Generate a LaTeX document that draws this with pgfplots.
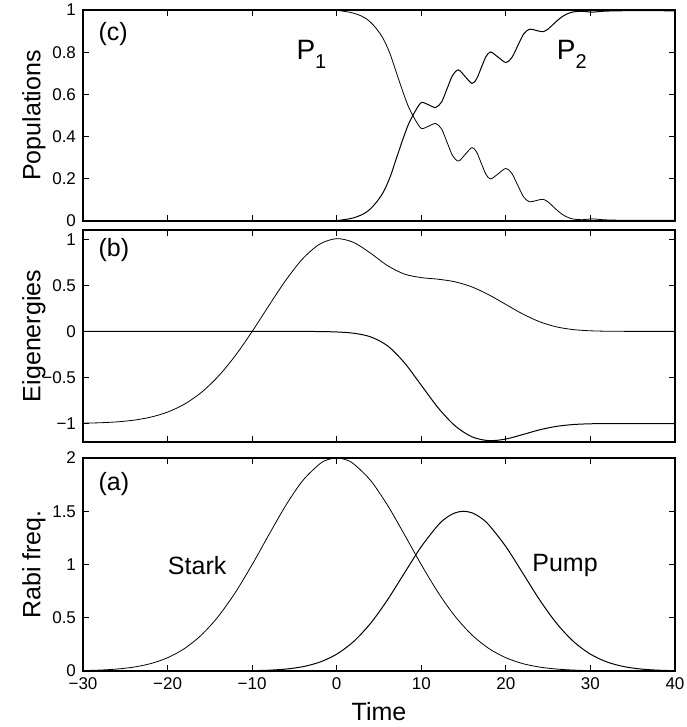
\documentclass[border=0pt]{standalone}
\usepackage{fontspec}
\setmainfont{Liberation Sans}
\usepackage{pgfplots}
\pgfplotsset{compat=1.18}
\begin{document}
\begin{tikzpicture}
\pgfplotsset{
  every axis/.append style={
    scale only axis, width=296pt,
    xmin=-30, xmax=40,
    xtick={-30,-20,-10,0,10,20,30,40},
    tick align=inside, tick pos=both,
    major tick length=2.8pt,
    axis line style={line width=0.6pt},
    every tick/.style={black, line width=0.4pt},
    tick label style={font=\fontsize{8.5}{9}\selectfont},
    label style={font=\fontsize{12.5}{13}\selectfont},
    ylabel style={at={(axis description cs:-0.083,0.5)}, anchor=center},
    /pgf/number format/assume math mode=true,
    cycle list={{black, line width=0.5pt, mark=none}},
  },
}
\useasboundingbox (-41.5pt,-28pt) rectangle (301.5pt,335.5pt);

% ---------------- (a) Rabi frequencies
\begin{axis}[at={(0pt,0pt)}, anchor=south west, height=106.5pt,
  ymin=0, ymax=2, ytick={0,0.5,1,1.5,2}, yticklabels={0,0.5,1,1.5,2},
  xticklabels={−30,−20,−10,0,10,20,30,40},
  xlabel={Time}, xlabel style={at={(axis description cs:0.5,-0.2315)}, anchor=base},
  ylabel={Rabi freq.}]
\addplot+[smooth] table {
t S
-30 0.0039
-28 0.0087
-26 0.0183
-24 0.0366
-22 0.0694
-20 0.1244
-18 0.2108
-16 0.3380
-14 0.5128
-12 0.7358
-10 0.9988
-8 1.2824
-6 1.5576
-4 1.7896
-2 1.9452
-1 1.9862
0 2.0000
1 1.9862
2 1.9452
4 1.7896
6 1.5576
8 1.2824
10 0.9988
12 0.7358
14 0.5128
16 0.3380
18 0.2108
20 0.1244
22 0.0694
24 0.0366
26 0.0183
28 0.0087
30 0.0039
32 0.0016
34 0.0007
36 0.0003
38 0.0001
40 0.0000
};
\addplot+[smooth] table {
t P
-30 0.0000
-20 0.0000
-16 0.0001
-14 0.0003
-12 0.0010
-10 0.0029
-8 0.0076
-6 0.0182
-4 0.0406
-2 0.0834
0 0.1581
2 0.2768
4 0.4473
6 0.6673
8 0.9189
10 1.1682
12 1.3709
13 1.4412
14 1.4851
15 1.5000
16 1.4851
17 1.4412
18 1.3709
20 1.1682
22 0.9189
24 0.6673
26 0.4473
28 0.2768
30 0.1581
32 0.0834
34 0.0406
36 0.0182
38 0.0076
40 0.0029
};
\node[anchor=west, inner sep=0pt, font=\fontsize{12.5}{13}\selectfont] at (axis cs:-28.2,1.756) {(a)};
\node[anchor=center, inner sep=0pt, font=\fontsize{12.5}{13}\selectfont] at (axis cs:-16.5,0.986) {Stark};
\node[anchor=center, inner sep=0pt, font=\fontsize{12.5}{13}\selectfont] at (axis cs:27.0,0.986) {Pump};
\end{axis}

% ---------------- (b) Eigenenergies
\begin{axis}[at={(0pt,114.5pt)}, anchor=south west, height=106pt,
  ymin=-1.2, ymax=1.1, ytick={-1,-0.5,0,0.5,1}, yticklabels={−1,−0.5,0,0.5,1},
  xticklabels={},
  ylabel={Eigenergies}]
\addplot+[smooth] table {
t E
-30 -0.9961
-28 -0.9913
-26 -0.9817
-24 -0.9634
-22 -0.9306
-20 -0.8756
-18 -0.7892
-16 -0.6620
-14 -0.4872
-12 -0.2642
-10 -0.0012
-8 0.2825
-6 0.5577
-4 0.7901
-2 0.9470
0 1.0062
2 0.9651
4 0.8486
6 0.7136
8 0.6219
10 0.5835
12 0.5660
14 0.5379
16 0.4820
18 0.3963
20 0.2922
22 0.1886
24 0.1043
26 0.0486
28 0.0190
30 0.0062
32 0.0017
34 0.0004
36 0.0001
38 0.0000
40 0.0000
};
\addplot+[smooth] table {
t E
-30 0.0000
-12 0.0000
-10 0.0000
-8 -0.0001
-6 -0.0002
-4 -0.0005
-2 -0.0018
0 -0.0062
2 -0.0199
4 -0.0590
6 -0.1560
8 -0.3395
10 -0.5847
12 -0.8302
14 -1.0251
16 -1.1440
18 -1.1855
20 -1.1678
22 -1.1192
24 -1.0677
26 -1.0303
28 -1.0103
30 -1.0024
32 -1.0001
34 -0.9998
36 -0.9999
38 -1.0000
40 -1.0000
};
\node[anchor=west, inner sep=0pt, font=\fontsize{12.5}{13}\selectfont] at (axis cs:-28.2,0.883) {(b)};
\end{axis}

% ---------------- (c) Populations
\begin{axis}[at={(0pt,225pt)}, anchor=south west, height=105.5pt,
  ymin=0, ymax=1, ytick={0,0.2,0.4,0.6,0.8,1}, yticklabels={0,0.2,0.4,0.6,0.8,1},
  xticklabels={},
  ylabel={Populations}]
\addplot+[smooth] table {
t P1
-30 1.000
-4 1.000
-2 0.9995
-1 0.999
0 0.998
1 0.993
2 0.985
3 0.970
3.5 0.958
4 0.942
4.7 0.911
5.5 0.864
6.3 0.793
7.1 0.698
7.9 0.604
8.5 0.540
9.0 0.500
9.5 0.465
10.05 0.438
10.9 0.450
11.7 0.462
12.4 0.436
13.05 0.373
13.7 0.310
14.4 0.284
15.2 0.316
16.0 0.348
16.55 0.326
17.1 0.273
17.65 0.221
18.2 0.199
19.1 0.224
20.0 0.249
20.7 0.226
21.4 0.170
22.1 0.114
22.8 0.091
23.6 0.097
24.4 0.103
25.0 0.090
25.6 0.068
26.2 0.046
26.8 0.028
27.4 0.016
28.0 0.009
29.0 0.006
30.2 0.010
31.5 0.006
33.0 0.004
36.0 0.003
40.0 0.004
};
\addplot+[smooth] table {
t P2
-30 0.000
-4 0.000
-2 0.0005
-1 0.001
0 0.002
1 0.007
2 0.015
3 0.030
3.5 0.042
4 0.058
4.7 0.089
5.5 0.136
6.3 0.207
7.1 0.302
7.9 0.396
8.5 0.460
9.0 0.500
9.5 0.535
10.05 0.562
10.9 0.550
11.7 0.538
12.4 0.564
13.05 0.627
13.7 0.690
14.4 0.716
15.2 0.684
16.0 0.652
16.55 0.674
17.1 0.727
17.65 0.779
18.2 0.801
19.1 0.776
20.0 0.751
20.7 0.774
21.4 0.830
22.1 0.886
22.8 0.909
23.6 0.903
24.4 0.897
25.0 0.910
25.6 0.932
26.2 0.954
26.8 0.972
27.4 0.984
28.0 0.991
29.0 0.994
30.2 0.990
31.5 0.994
33.0 0.996
36.0 0.997
40.0 0.996
};
\node[anchor=west, inner sep=0pt, font=\fontsize{12.5}{13}\selectfont] at (axis cs:-28.2,0.884) {(c)};
\node[anchor=base west, inner sep=0pt, font=\fontsize{14}{14}\selectfont] at (axis cs:-4.8,0.765) {P\raisebox{-4.5pt}{\fontsize{10}{10}\selectfont 1}};
\node[anchor=base west, inner sep=0pt, font=\fontsize{14}{14}\selectfont] at (axis cs:26.0,0.765) {P\raisebox{-4.5pt}{\fontsize{10}{10}\selectfont 2}};
\end{axis}
\end{tikzpicture}
\end{document}
